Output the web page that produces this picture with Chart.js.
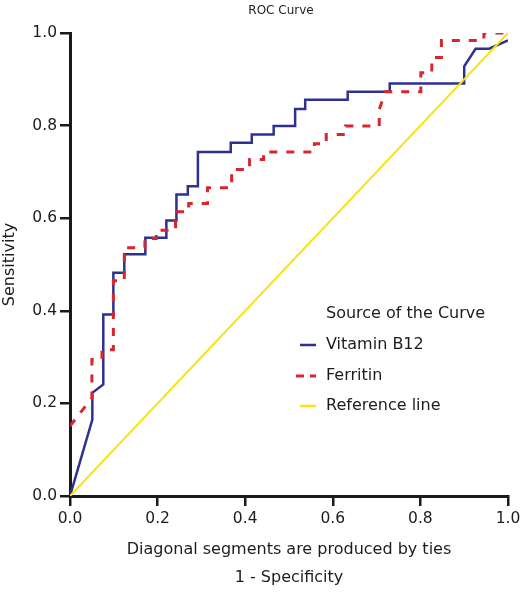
<!DOCTYPE html>
<html lang="en">
<head>
    <meta charset="UTF-8">
    <title>ROC Curve</title>
    <style>
        body {
            margin: 0;
            padding: 0;
            background-color: #fff;
        }

        #chart-box {
            width: 521px;
            height: 592px;
            position: relative;
        }
    </style>
    <script src="https://cdn.jsdelivr.net/npm/chart.js"></script>
</head>
<body>

<div id="chart-box">
    <canvas id="rocChart"></canvas>
</div>

<script>
    // 1 - specificity / sensitivity
    const b12Fpr = [0, 0.051, 0.051, 0.076, 0.076, 0.099, 0.099, 0.124, 0.124, 0.172, 0.172, 0.220, 0.220, 0.243, 0.243, 0.269, 0.269, 0.292, 0.292, 0.367, 0.367, 0.415, 0.415, 0.465, 0.465, 0.514, 0.514, 0.537, 0.537, 0.634, 0.634, 0.730, 0.730, 0.900, 0.900, 0.926, 0.957, 1.0];
    const b12Tpr = [0, 0.165, 0.223, 0.241, 0.392, 0.392, 0.482, 0.482, 0.522, 0.522, 0.558, 0.558, 0.595, 0.595, 0.651, 0.651, 0.669, 0.669, 0.743, 0.743, 0.763, 0.763, 0.781, 0.781, 0.799, 0.799, 0.836, 0.836, 0.856, 0.856, 0.873, 0.873, 0.891, 0.891, 0.928, 0.966, 0.966, 0.984];

    const ferritinFpr = [0, 0.050, 0.050, 0.073, 0.073, 0.099, 0.099, 0.124, 0.124, 0.171, 0.171, 0.197, 0.197, 0.241, 0.241, 0.271, 0.271, 0.314, 0.314, 0.369, 0.369, 0.410, 0.410, 0.442, 0.442, 0.558, 0.558, 0.585, 0.585, 0.629, 0.629, 0.706, 0.706, 0.720, 0.801, 0.801, 0.826, 0.826, 0.848, 0.848, 0.945, 0.945, 1.0];
    const ferritinTpr = [0.151, 0.212, 0.295, 0.295, 0.316, 0.316, 0.465, 0.465, 0.536, 0.536, 0.556, 0.556, 0.574, 0.574, 0.614, 0.614, 0.632, 0.632, 0.666, 0.666, 0.705, 0.705, 0.727, 0.727, 0.743, 0.743, 0.761, 0.761, 0.781, 0.781, 0.799, 0.799, 0.835, 0.873, 0.873, 0.914, 0.914, 0.947, 0.947, 0.984, 0.984, 1.0, 1.0];

    const refFpr = [0, 1];
    const refTpr = [0, 1];

    const axisTicks = [0, 0.2, 0.4, 0.6, 0.8, 1.0];

    const seriesNames = ['Vitamin B12', 'Ferritin', 'Reference line'];
    const seriesColors = ['#2e3192', '#d7262e', '#f4e515'];

    const fontName = '"DejaVu Sans", Verdana, sans-serif';
    const textColor = '#1c1c1c';

    function toPoints(xs, ys) {
        return xs.map((x, i) => ({ x: x, y: ys[i] }));
    }

    // title and legend box drawn by hand so they sit where the original has them
    const extras = {
        id: 'extras',
        afterDraw(chart) {
            const ctx = chart.ctx;
            ctx.save();
            ctx.fillStyle = textColor;
            ctx.textBaseline = 'middle';

            ctx.font = '12px ' + fontName;
            ctx.textAlign = 'center';
            ctx.fillText('ROC Curve', 281, 11);

            ctx.textAlign = 'left';
            ctx.font = '16px ' + fontName;
            ctx.fillText('Source of the Curve', 326, 314);

            const rows = [345, 376, 406];
            for (let i = 0; i < seriesNames.length; i++) {
                ctx.beginPath();
                ctx.strokeStyle = seriesColors[i];
                ctx.lineWidth = i === 1 ? 3 : 2.5;
                ctx.setLineDash(i === 1 ? [8, 6] : []);
                ctx.moveTo(i === 1 ? 296 : 300, rows[i]);
                ctx.lineTo(316, rows[i]);
                ctx.stroke();
                ctx.setLineDash([]);
                ctx.fillStyle = textColor;
                ctx.fillText(seriesNames[i], 326, rows[i]);
            }
            ctx.restore();
        }
    };

    const tickFont = { family: fontName, size: 15.5 };

    new Chart(document.getElementById('rocChart'), {
        type: 'scatter',
        data: {
            datasets: [
                {
                    label: seriesNames[0],
                    data: toPoints(b12Fpr, b12Tpr),
                    borderColor: seriesColors[0],
                    borderWidth: 2.5,
                    order: 3
                },
                {
                    label: seriesNames[1],
                    data: toPoints(ferritinFpr, ferritinTpr),
                    borderColor: seriesColors[1],
                    borderWidth: 3,
                    borderDash: [8, 9],
                    order: 2
                },
                {
                    label: seriesNames[2],
                    data: toPoints(refFpr, refTpr),
                    borderColor: seriesColors[2],
                    borderWidth: 2,
                    order: 1
                }
            ]
        },
        options: {
            responsive: true,
            maintainAspectRatio: false,
            animation: false,
            showLine: true,
            elements: {
                point: { radius: 0 },
                line: { tension: 0, fill: false, borderCapStyle: 'butt' }
            },
            layout: {
                padding: { top: 33, right: 13, left: 0, bottom: 0 }
            },
            plugins: {
                legend: { display: false },
                tooltip: { enabled: false },
                title: { display: false }
            },
            scales: {
                x: {
                    type: 'linear',
                    min: 0,
                    max: 1,
                    afterBuildTicks: s => { s.ticks = axisTicks.map(v => ({ value: v })); },
                    ticks: {
                        callback: v => v.toFixed(1),
                        color: textColor,
                        font: tickFont,
                        padding: 4,
                        maxRotation: 0
                    },
                    grid: {
                        drawOnChartArea: false,
                        drawTicks: true,
                        tickLength: 10,
                        color: '#1a1a1a',
                        lineWidth: 2.5
                    },
                    border: { display: true, color: '#1a1a1a', width: 3 },
                    title: {
                        display: true,
                        text: ['Diagonal segments are produced by ties', '1 - Specificity'],
                        color: textColor,
                        font: { family: fontName, size: 16, lineHeight: 1.75 },
                        padding: { top: 6, bottom: 0 }
                    },
                    afterFit: s => {
                        s.height = 96;
                        s.paddingLeft = 0;
                        s.paddingRight = 0;
                    }
                },
                y: {
                    type: 'linear',
                    min: 0,
                    max: 1,
                    afterBuildTicks: s => { s.ticks = axisTicks.map(v => ({ value: v })); },
                    ticks: {
                        callback: v => v.toFixed(1),
                        color: textColor,
                        font: tickFont,
                        padding: 3
                    },
                    grid: {
                        drawOnChartArea: false,
                        drawTicks: true,
                        tickLength: 10,
                        color: '#1a1a1a',
                        lineWidth: 2.5
                    },
                    border: { display: true, color: '#1a1a1a', width: 3 },
                    title: {
                        display: true,
                        text: 'Sensitivity',
                        color: textColor,
                        font: { family: fontName, size: 16 },
                        padding: { top: 0, bottom: 0 }
                    },
                    afterFit: s => {
                        s.width = 70;
                        s.paddingTop = 0;
                        s.paddingBottom = 0;
                    }
                }
            }
        },
        plugins: [extras]
    });
</script>
</body>
</html>
